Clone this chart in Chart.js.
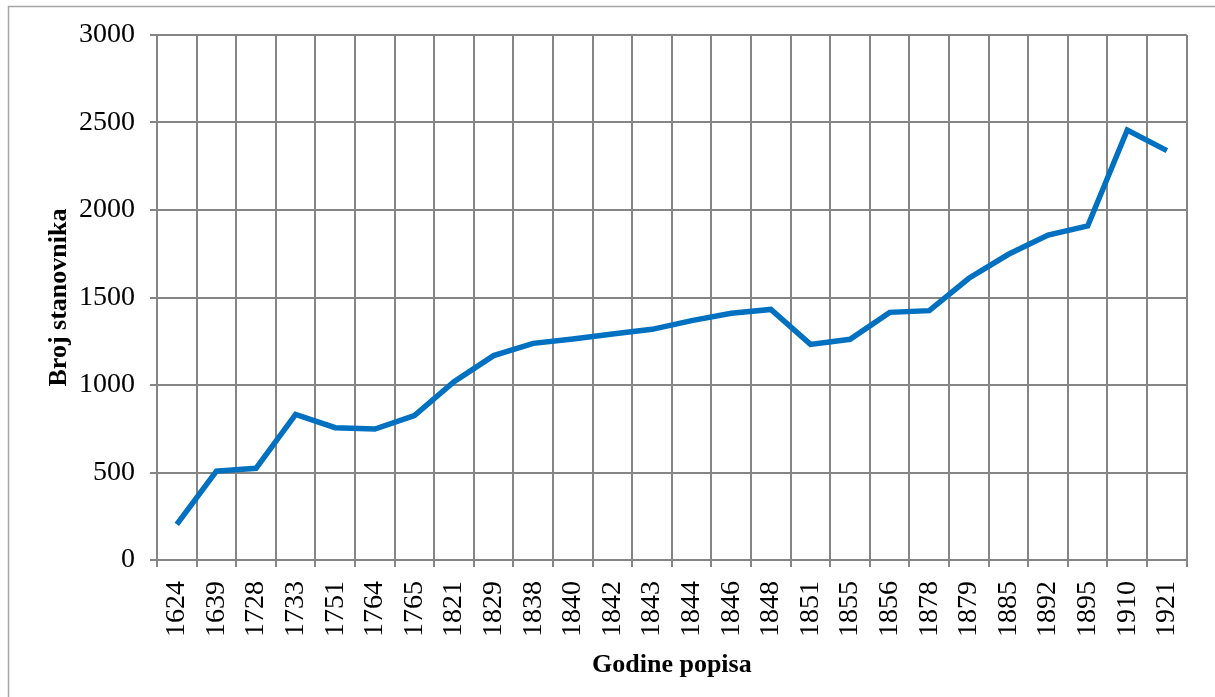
<!DOCTYPE html>
<html>
<head>
<meta charset="utf-8">
<script src="https://cdn.jsdelivr.net/npm/chart.js@4/dist/chart.umd.min.js"></script>
<style>
  html, body { margin: 0; padding: 0; background: #fff; }
  #wrap { position: relative; width: 1215px; height: 697px; overflow: hidden; }
  canvas { display: block; }
</style>
</head>
<body>
<div id="wrap"><canvas id="c" width="1215" height="697"></canvas></div>
<script>
const years = ["1624","1639","1728","1733","1751","1764","1765","1821","1829","1838","1840","1842","1843","1844","1846","1848","1851","1855","1856","1878","1879","1885","1892","1895","1910","1921"];
const population = [204, 508, 524, 832, 756, 748, 825, 1019, 1168, 1238, 1263, 1291, 1318, 1368, 1410, 1432, 1232, 1261, 1415, 1425, 1610, 1747, 1857, 1909, 2457, 2339];
const yTicks = [0, 500, 1000, 1500, 2000, 2500, 3000];
const yTitle = "Broj stanovnika";
const xTitle = "Godine popisa";

const SERIF = '"Liberation Serif", "Times New Roman", serif';
const GRID = '#858585';

const framePlugin = {
  id: 'frame',
  beforeDraw(chart) {
    const ctx = chart.ctx;
    ctx.save();
    ctx.fillStyle = '#fff';
    ctx.fillRect(0, 0, chart.width, chart.height);
    ctx.strokeStyle = '#a6a6a6';
    ctx.lineWidth = 1.5;
    ctx.beginPath();
    ctx.moveTo(8.5, chart.height + 5);
    ctx.lineTo(8.5, 6.5);
    ctx.lineTo(chart.width + 5, 6.5);
    ctx.stroke();
    ctx.restore();
  }
};

new Chart(document.getElementById('c'), {
  type: 'line',
  data: {
    labels: years,
    datasets: [{
      data: population,
      borderColor: '#0070C0',
      backgroundColor: '#0070C0',
      borderWidth: 5.5,
      pointRadius: 0,
      pointHoverRadius: 0,
      tension: 0,
      fill: false
    }]
  },
  options: {
    responsive: false,
    animation: false,
    devicePixelRatio: 1,
    layout: { padding: { top: 35, right: 26, left: 0, bottom: 0 } },
    plugins: { legend: { display: false }, tooltip: { enabled: false } },
    scales: {
      x: {
        type: 'category',
        offset: true,
        grid: { offset: true, color: GRID, lineWidth: 2, tickLength: 7, drawTicks: true },
        border: { color: GRID, width: 2 },
        ticks: {
          minRotation: 90, maxRotation: 90, autoSkip: false,
          padding: 14, color: '#000',
          font: { family: SERIF, size: 28 }
        },
        title: {
          display: true, text: xTitle, color: '#000',
          font: { family: SERIF, size: 26, weight: 'bold' },
          padding: { top: 0, bottom: 16 }
        },
        afterFit(scale) { scale.height = 697 - 560; }
      },
      y: {
        min: 0, max: 3000,
        afterBuildTicks(scale) { scale.ticks = yTicks.map(v => ({ value: v })); },
        grid: { color: GRID, lineWidth: 2, tickLength: 7 },
        border: { color: GRID, width: 2 },
        ticks: {
          padding: 15, color: '#000',
          font: { family: SERIF, size: 28 },
          callback: (v) => String(v)
        },
        title: {
          display: true, text: yTitle, color: '#000',
          font: { family: SERIF, size: 26, weight: 'bold' },
          padding: { top: 44, bottom: 0 }
        },
        afterFit(scale) { scale.width = 157; }
      }
    }
  },
  plugins: [framePlugin]
});
</script>
</body>
</html>
